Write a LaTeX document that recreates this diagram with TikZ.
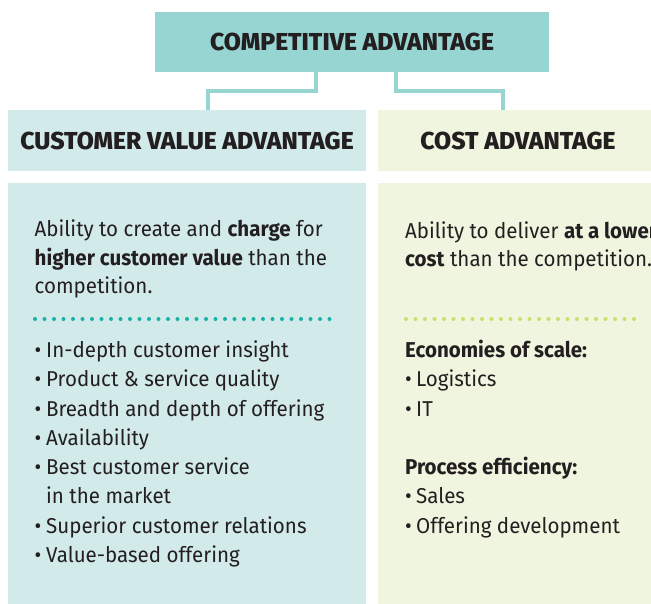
\documentclass[tikz,border=0pt]{standalone}
\usepackage{fontspec}
\setmainfont{Fira Sans}[FakeStretch=0.955]
\newfontfamily\headfont{Fira Sans ExtraBold}[FakeStretch=1.01]
\definecolor{topc}{HTML}{97D5D3}
\definecolor{lblue}{HTML}{D3EAEB}
\definecolor{lgreen}{HTML}{F0F5DF}
\definecolor{tealdot}{HTML}{17B2A6}
\definecolor{greendot}{HTML}{C9E06A}
\definecolor{ink}{HTML}{231F20}
\begin{document}
\begin{tikzpicture}[x=1pt,y=-1pt,
  box/.style={draw=none,inner sep=0pt,outer sep=0pt,anchor=north west},
  headtxt/.style={inner sep=0pt,text=ink,font=\headfont\fontsize{24.5}{24.5}\selectfont},
  body/.style={inner sep=0pt,anchor=base west,text=ink,font=\fontsize{21.5}{29}\selectfont},
  conn/.style={draw=topc,line width=3.3pt},
  dots/.style={line width=4pt,line cap=round,dash pattern=on 0pt off 9.5pt}]
\useasboundingbox (0,0) rectangle (651,603);
% boxes
\node[box,fill=topc,minimum width=394pt,minimum height=60pt] (top) at (155,12) {};
\node[box,fill=lblue,minimum width=358pt,minimum height=61pt] (headL) at (8,110) {};
\node[box,fill=lgreen,minimum width=280pt,minimum height=61pt] (headR) at (378,110) {};
\node[box,fill=lblue,minimum width=358pt,minimum height=425pt] (bodyL) at (8,183) {};
\node[box,fill=lgreen,minimum width=280pt,minimum height=425pt] (bodyR) at (378,183) {};
% headings
\node[headtxt] (tTop) at (352,42) {COMPETITIVE ADVANTAGE};
\node[headtxt] (tL) at (187,140.5) {CUSTOMER VALUE ADVANTAGE};
\node[headtxt] (tR) at (518,140.5) {COST ADVANTAGE};
% connectors
\coordinate (cL1) at (316,72);
\coordinate (cL2) at (208,110);
\coordinate (cR1) at (396,72);
\coordinate (cR2) at (503,110);
\draw[conn] (cL1) -- (cL1 |- 0,91) -| (cL2);
\draw[conn] (cR1) -- (cR1 |- 0,91) -| (cR2);
% left body
\node[body] (a1) at (34.5,236) {Ability to create and \textbf{charge} for};
\node[body] (a2) at (34.5,265) {\textbf{higher customer value} than the};
\node[body] (a3) at (34.5,293.5) {competition.};
\coordinate (dL1) at (35,319);
\coordinate (dL2) at (339,319);
\draw[dots,tealdot] (dL1) -- (dL2);
\foreach \n/\y/\t in {1/357.5/In-depth customer insight,
  2/386.75/Product \& service quality,
  3/416/Breadth and depth of offering,
  4/445.25/Availability,
  5/474.5/Best customer service,
  7/533/Superior customer relations,
  8/562.25/Value-based offering}{
  \node[body] (bL\n) at (34.5,\y) {•};
  \node[body] (iL\n) at (46,\y) {\t};
}
\node[body] (iL6) at (46,503.75) {in the market};
% right body
\node[body] (r1) at (405,238) {Ability to deliver \textbf{at a lower}};
\node[body] (r2) at (405,266.5) {\textbf{cost} than the competition.};
\coordinate (dR1) at (406,319);
\coordinate (dR2) at (634,319);
\draw[dots,greendot] (dR1) -- (dR2);
\node[body,font=\bfseries\fontsize{21.5}{29}\selectfont] (h1) at (405,357.5) {Economies of scale:};
\node[body,font=\bfseries\fontsize{21.5}{29}\selectfont] (h2) at (405,474.5) {Process efficiency:};
\foreach \n/\y/\t in {1/386.75/Logistics,2/416/IT,3/503.75/Sales,4/533/Offering development}{
  \node[body] (bR\n) at (405,\y) {•};
  \node[body] (iR\n) at (416,\y) {\t};
}
\end{tikzpicture}
\end{document}
